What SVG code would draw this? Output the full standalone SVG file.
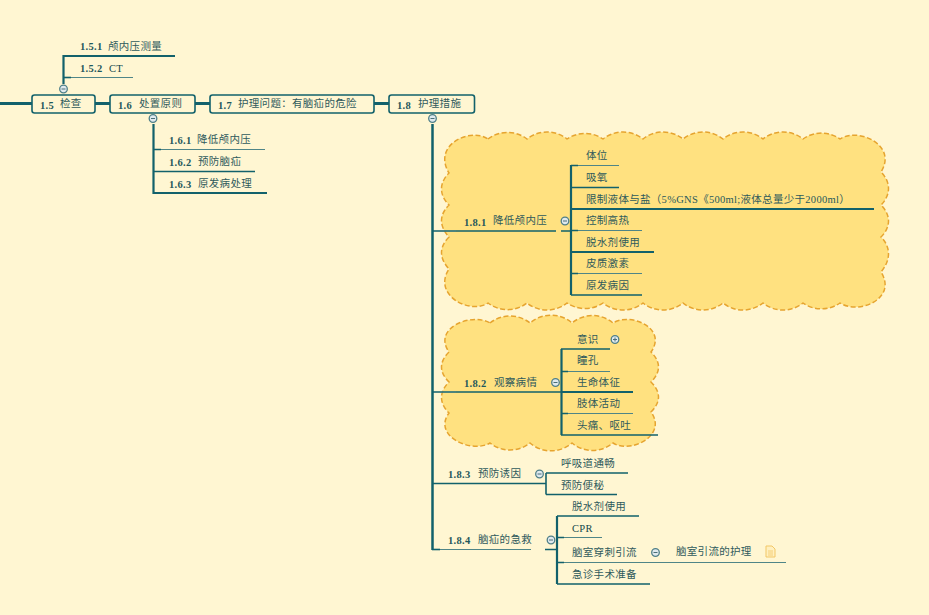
<svg xmlns="http://www.w3.org/2000/svg" width="929" height="615" viewBox="0 0 929 615">
<style>
text{font-family:"Noto Sans CJK SC","Liberation Serif",sans-serif;font-size:10.5px;fill:#2f5a5c;letter-spacing:.3px}
.n{font-family:"Liberation Serif",serif;font-size:10.5px;font-weight:bold;fill:#1f585c}
.l{font-family:"Liberation Serif","Noto Sans CJK SC",serif;fill:#12474c}
.r{font-family:"Liberation Serif",serif;fill:#1f585c}
.box{fill:#fff6d2;stroke:#12616b;stroke-width:1.6}
.cloud{fill:#ffe180;stroke:#e6a42f;stroke-width:1.5;stroke-dasharray:5 2.5}
.c{fill:none;stroke:#12616b;stroke-width:1.6}
.t{stroke-width:2.2}
.m{stroke-width:3}
.f{stroke:#4f8587;stroke-width:1}
.o{fill:#dfe9ee;stroke:#4f7f88;stroke-width:1.3}
.p{fill:none;stroke:#4a6f78;stroke-width:1}
</style>
<rect width="929" height="615" fill="#fff6d2"/>
<g id="clouds">
<path class="cloud" d="M488 139A32 32 0 0 1 527 139A32 32 0 0 1 567 139A32 32 0 0 1 603 139A32 32 0 0 1 643 139A32 32 0 0 1 683 139A32 32 0 0 1 723 139A32 32 0 0 1 763 139A32 32 0 0 1 803 139A32 32 0 0 1 840 139C858 127 898 145 881 172C891 182 891 195 881 205C891 215 891 227 881 237C891 247 891 260 881 272C898 299 858 315 840 303A32 32 0 0 1 803 303A32 32 0 0 1 763 303A32 32 0 0 1 723 303A32 32 0 0 1 683 303A32 32 0 0 1 643 303A32 32 0 0 1 603 303A32 32 0 0 1 567 303A32 32 0 0 1 527 303A32 32 0 0 1 488 303C470 315 432 295 449 269C439 258 439 247 449 237C439 226 439 215 449 205C439 195 439 183 449 173C432 145 470 127 488 139Z"/>
<path class="cloud" d="M490 323A32 32 0 0 1 530 323A32 32 0 0 1 572 323A32 32 0 0 1 613 323C630 312 668 328 651 352C661 362 661 372 651 382C661 392 661 402 651 412C668 436 630 454 613 443A32 32 0 0 1 572 443A32 32 0 0 1 530 443A32 32 0 0 1 490 443C472 454 432 436 449 413C439 403 439 392 449 382C439 372 439 362 449 352C432 328 472 312 490 323Z"/>
</g>
<g id="connectors">
<path class="c m" d="M0 103.500H32M95 103.500H110M195 103.500H210M374 103.500H389"/>
<path class="c t" d="M63.500 84V56H175"/><path class="c f" d="M64 77.500H133"/><path class="c" d="M63 77.500H71"/>
<path class="c t" d="M153.500 124V193H267"/><path class="c f" d="M154 149.500H265"/><path class="c" d="M154 149.500H161M154 171.500H255"/>
<path class="c" d="M432.500 124V550" style="stroke-width:2.500"/>
<path class="c" d="M432 231H556"/><path class="c" d="M432 392H552"/><path class="c" d="M432 483.500H531"/><path class="c f" d="M440 549.500H531"/><path class="c" d="M432 549.500H440"/>
<path class="c f" d="M434 231H456M434 392H456"/>
<path class="c" d="M561 231H571M552 392H562M531 483.500H546M545 549.500H557"/>
<path class="c t" d="M571 165V295"/>
<path class="c f" d="M571 165.500H619M571 230.500H642M571 273.500H642"/>
<path class="c" d="M571 165.500H578M571 230.500H578M571 273.500H578M571 187.500H619M571 295H642"/><path class="c t" d="M571 209H874M571 252H654"/>
<path class="c t" d="M561.500 349V435"/>
<path class="c" d="M561 349H610M561 435H658"/><path class="c f" d="M561 371.500H610M561 413.500H633"/><path class="c" d="M561 371.500H568M561 413.500H568"/><path class="c t" d="M561 392H633"/>
<path class="c" d="M546 473V494.500"/><path class="c" d="M546 473H628M546 494.500H617"/>
<path class="c t" d="M557 516V584"/><path class="c" d="M557 516H639M557 584H650"/><path class="c f" d="M557 537.500H602M557 562.500H786"/><path class="c" d="M557 537.500H564M557 562.500H564"/>
</g>
<g id="n1_5"><rect class="box" x="32" y="95" width="63" height="18" rx="2.500"/><text class="n" x="40" y="109">1.5</text><text x="60" y="107">检查</text><circle class="o" cx="63.500" cy="89" r="3.800"/><path class="p" d="M61.500 89H65.500"/></g>
<g id="n1_5_1"><text class="n" x="80" y="50">1.5.1</text><text x="108" y="50">颅内压测量</text></g>
<g id="n1_5_2"><text class="n" x="80" y="72">1.5.2</text><text class="l" x="109" y="72">CT</text></g>
<g id="n1_6"><rect class="box" x="110" y="95" width="85" height="18" rx="2.500"/><text class="n" x="118" y="109">1.6</text><text x="139" y="107">处置原则</text><circle class="o" cx="153" cy="118.500" r="3.800"/><path class="p" d="M151 118.500H155"/></g>
<g id="n1_6_1"><text class="n" x="169" y="144">1.6.1</text><text x="197" y="143">降低颅内压</text></g>
<g id="n1_6_2"><text class="n" x="169" y="166">1.6.2</text><text x="198" y="165">预防脑疝</text></g>
<g id="n1_6_3"><text class="n" x="169" y="188">1.6.3</text><text x="198" y="187">原发病处理</text></g>
<g id="n1_7"><rect class="box" x="210" y="95" width="164" height="18" rx="2.500"/><text class="n" x="218" y="109">1.7</text><text x="238" y="107">护理问题：有脑疝的危险</text></g>
<g id="n1_8"><rect class="box" x="389" y="95" width="85.500" height="18" rx="2.500"/><text class="n" x="397" y="109">1.8</text><text x="418" y="107">护理措施</text><circle class="o" cx="432.500" cy="118.500" r="3.800"/><path class="p" d="M430.500 118.500H434.500"/></g>
<g id="n1_8_1"><text class="n" x="464" y="226">1.8.1</text><text x="493" y="224">降低颅内压</text><circle class="o" cx="565" cy="221" r="3.800"/><path class="p" d="M563 221H567"/></g>
<g id="a1"><text x="586" y="159">体位</text></g>
<g id="a2"><text x="586" y="181">吸氧</text></g>
<g id="a3"><text x="586" y="203">限制液体与盐（<tspan class="r">5%GNS</tspan>《<tspan class="r">500ml;</tspan>液体总量少于<tspan class="r">2000ml</tspan>）</text></g>
<g id="a4"><text x="586" y="224">控制高热</text></g>
<g id="a5"><text x="586" y="246">脱水剂使用</text></g>
<g id="a6"><text x="586" y="267">皮质激素</text></g>
<g id="a7"><text x="586" y="289">原发病因</text></g>
<g id="n1_8_2"><text class="n" x="464" y="387">1.8.2</text><text x="494" y="386">观察病情</text><circle class="o" cx="555.500" cy="382.500" r="3.800"/><path class="p" d="M553.500 382.500H557.500"/></g>
<g id="b1"><text x="577" y="343">意识</text><circle class="o" cx="615" cy="339.500" r="3.800"/><path class="p" d="M613 339.500H617M615 337.500V341.500"/></g>
<g id="b2"><text x="577" y="364">瞳孔</text></g>
<g id="b3"><text x="577" y="386">生命体征</text></g>
<g id="b4"><text x="577" y="407">肢体活动</text></g>
<g id="b5"><text x="577" y="429">头痛、呕吐</text></g>
<g id="n1_8_3"><text class="n" x="448" y="478">1.8.3</text><text x="478" y="477">预防诱因</text><circle class="o" cx="539.500" cy="474" r="3.800"/><path class="p" d="M537.500 474H541.500"/></g>
<g id="c1"><text x="561" y="467">呼吸道通畅</text></g>
<g id="c2"><text x="561" y="489">预防便秘</text></g>
<g id="n1_8_4"><text class="n" x="448" y="544">1.8.4</text><text x="478" y="543">脑疝的急救</text><circle class="o" cx="551" cy="540" r="3.800"/><path class="p" d="M549 540H553"/></g>
<g id="d1"><text x="572" y="510">脱水剂使用</text></g>
<g id="d2"><text class="l" x="572" y="532">CPR</text></g>
<g id="d3"><text x="572" y="556">脑室穿刺引流</text><circle class="o" cx="655.500" cy="552.500" r="3.800"/><path class="p" d="M653.500 552.500H657.500"/></g>
<g id="d4"><text x="572" y="578">急诊手术准备</text></g>
<g id="e1"><text x="676" y="555">脑室引流的护理</text><path d="M766 546H772L775 549V557H766Z" fill="#fff0c0" stroke="#f2c766"/><path d="M768 551H773M768 553H773M768 555H773" stroke="#f2c766" fill="none" stroke-width=".8"/></g>
</svg>
